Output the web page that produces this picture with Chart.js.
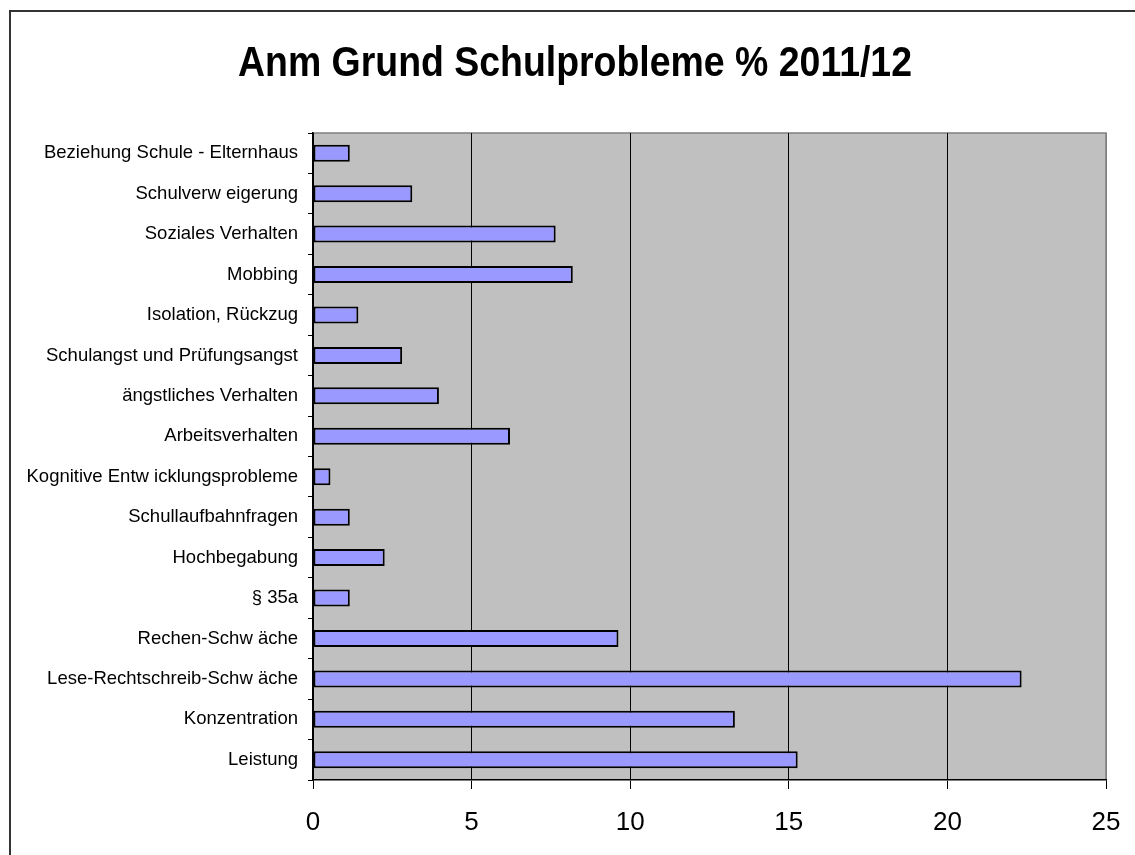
<!DOCTYPE html>
<html>
<head>
<meta charset="utf-8">
<script src="https://cdn.jsdelivr.net/npm/chart.js@4.4.1/dist/chart.umd.min.js"></script>
<style>
  html, body { margin: 0; padding: 0; background: #fff; }
  #wrap { position: relative; width: 1135px; height: 855px; overflow: hidden; }
  #frame { position: absolute; left: 9px; top: 10px; width: 1140px; height: 860px; border: 2px solid #333; box-sizing: border-box; }
  canvas { position: absolute; left: 0; top: 0; }
</style>
</head>
<body>
<div id="wrap">
  <div id="frame"></div>
  <canvas id="chart" width="1135" height="855"></canvas>
</div>
<script>
const titleText = "Anm Grund Schulprobleme % 2011/12";

const categories = [
  "Beziehung Schule - Elternhaus",
  "Schulverw eigerung",
  "Soziales Verhalten",
  "Mobbing",
  "Isolation, Rückzug",
  "Schulangst und Prüfungsangst",
  "ängstliches Verhalten",
  "Arbeitsverhalten",
  "Kognitive Entw icklungsprobleme",
  "Schullaufbahnfragen",
  "Hochbegabung",
  "§ 35a",
  "Rechen-Schw äche",
  "Lese-Rechtschreib-Schw äche",
  "Konzentration",
  "Leistung",
];

const percentValues = [1.16, 3.13, 7.65, 8.19, 1.43, 2.81, 3.97, 6.21, 0.55, 1.16, 2.26, 1.16, 9.63, 22.34, 13.3, 15.28];

const xTicks = [0, 5, 10, 15, 20, 25];

// grey plot background + grey top/right border
const plotBackground = {
  id: "plotBackground",
  beforeDraw(chart) {
    const { ctx, chartArea: a } = chart;
    ctx.save();
    ctx.fillStyle = "#C0C0C0";
    ctx.fillRect(a.left, a.top, a.right - a.left, a.bottom - a.top);
    ctx.strokeStyle = "#808080";
    ctx.lineWidth = 1.5;
    ctx.beginPath();
    ctx.moveTo(a.left, a.top);
    ctx.lineTo(a.right, a.top);
    ctx.lineTo(a.right, a.bottom);
    ctx.stroke();
    ctx.restore();
  },
};

// title, slightly condensed like the original
const titlePlugin = {
  id: "titlePlugin",
  afterDraw(chart) {
    const ctx = chart.ctx;
    ctx.save();
    ctx.font = "bold 42px 'Liberation Sans', Arial, sans-serif";
    ctx.fillStyle = "#000";
    ctx.textBaseline = "alphabetic";
    const w = ctx.measureText(titleText).width;
    const sx = 674 / w;
    ctx.translate(575, 76);
    ctx.scale(sx, 1);
    ctx.textAlign = "center";
    ctx.fillText(titleText, 0, 0);
    ctx.restore();
  },
};

const ctx = document.getElementById("chart").getContext("2d");

new Chart(ctx, {
  type: "bar",
  data: {
    labels: categories,
    datasets: [
      {
        data: percentValues,
        backgroundColor: "#9999FF",
        borderColor: "#000",
        borderWidth: 2,
        borderSkipped: false,
        categoryPercentage: 1,
        barPercentage: 0.42,
      },
    ],
  },
  options: {
    indexAxis: "y",
    animation: false,
    responsive: false,
    layout: {
      padding: { left: 0, right: 29, top: 133, bottom: 0 },
    },
    scales: {
      x: {
        min: 0,
        max: 25,
        afterBuildTicks: (scale) => {
          scale.ticks = xTicks.map((v) => ({ value: v }));
        },
        afterFit: (scale) => {
          scale.height = 75;
          scale.paddingRight = 0;
          scale.paddingLeft = 0;
        },
        grid: {
          color: (c) => (c.tick && c.tick.value === 25 ? "#808080" : "#000"),
          lineWidth: 1,
          tickLength: 9,
          tickColor: "#000",
        },
        border: { display: true, color: "#000", width: 1.5 },
        ticks: {
          color: "#000",
          padding: 18,
          font: { family: "'Liberation Sans', Arial, sans-serif", size: 26 },
        },
      },
      y: {
        afterFit: (scale) => {
          scale.width = 313;
        },
        grid: {
          drawOnChartArea: false,
          tickLength: 5,
          tickColor: "#000",
        },
        border: { display: true, color: "#000", width: 1.5 },
        ticks: {
          color: "#000",
          padding: 10,
          autoSkip: false,
          font: { family: "'Liberation Sans', Arial, sans-serif", size: 18.5 },
        },
      },
    },
    plugins: {
      legend: { display: false },
      tooltip: { enabled: false },
      title: { display: false },
    },
  },
  plugins: [plotBackground, titlePlugin],
});
</script>
</body>
</html>
